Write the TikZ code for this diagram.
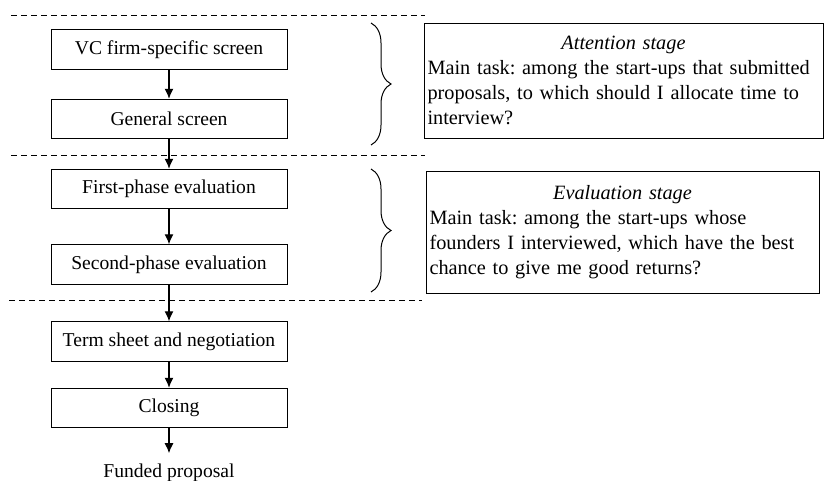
\documentclass[tikz,border=0pt]{standalone}
\usepackage{fontspec}
\setmainfont{Liberation Serif}
\usetikzlibrary{arrows.meta,decorations.pathreplacing}
\frenchspacing

\begin{document}
\begin{tikzpicture}[x=1pt, y=-1pt, font=\fontsize{19.6}{25}\selectfont]
            \tikzstyle{stage}=[draw,line width=1pt,minimum width=236pt,minimum height=39.5pt,inner sep=2pt]
            \tikzstyle{task}=[draw,line width=1pt,align=left,inner sep=3.5pt,font=\fontsize{20.3}{25}\selectfont]
            \tikzstyle{flow}=[-{Latex[length=10pt,width=9pt]},line width=1.2pt]
            \tikzstyle{cut}=[dash pattern=on 6pt off 4pt,line width=0.9pt]
            \tikzstyle{stagebrace}=[decorate,decoration={brace,amplitude=20pt},line width=1pt]
            \useasboundingbox (0,0) rectangle (824,480);

            \node[stage] (P_1) at (169,49.5)  {VC firm-specific screen};
            \node[stage] (P_2) at (169,119)   {General screen};
            \node[stage] (P_3) at (169,189)   {First-phase evaluation};
            \node[stage] (P_4) at (169,264.5) {Second-phase evaluation};
            \node[stage] (P_5) at (169,341.5) {Term sheet and negotiation};
            \node[stage] (P_6) at (169,408)   {Closing};
            \node[anchor=base,inner sep=10pt] (P_7) at (169,477) {Funded proposal};

            \draw[flow] (P_1) -- (P_2);
            \draw[flow] (P_2) -- (P_3);
            \draw[flow] (P_3) -- (P_4);
            \draw[flow] (P_4) -- (P_5);
            \draw[flow] (P_5) -- (P_6);
            \draw[flow] (P_6) -- (P_7);

            \draw[cut] (11,15) -- (425,15);
            \draw[cut] (11,155) -- (425,155);
            \draw[cut] (9,300) -- (422,300);

            \draw[stagebrace] (371,23) -- (371,145);
            \draw[stagebrace] (371,169) -- (371,292);

            \node[task,text width=392pt,minimum height=115pt] (D_1) at (623.5,80.5)
                {\makebox[392pt]{\textit{Attention stage}}\\
                 Main task: among the start-ups that submitted\\
                 proposals, to which should I allocate time to\\
                 interview?};
            \node[task,text width=386pt,minimum height=122pt] (D_2) at (622.5,232)
                {\makebox[386pt]{\textit{Evaluation stage}}\\
                 Main task: among the start-ups whose\\
                 founders I interviewed, which have the best\\
                 chance to give me good returns?};
\end{tikzpicture}
\end{document}
